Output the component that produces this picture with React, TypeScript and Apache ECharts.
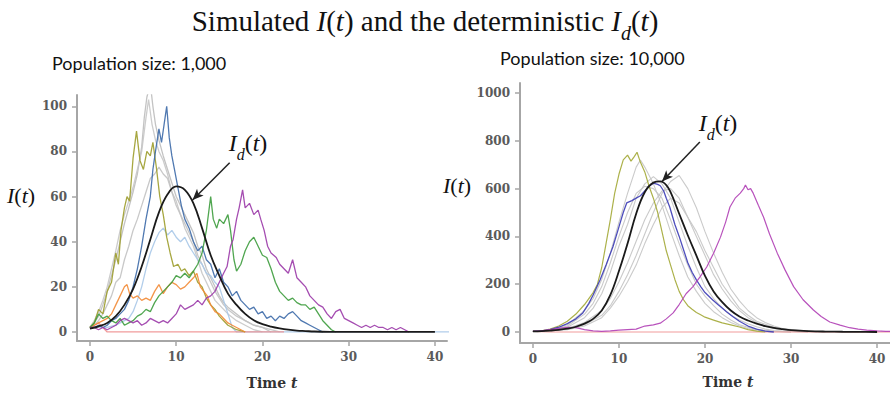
import React, { useEffect, useRef } from "react";
import * as echarts from "echarts";

// ---------- Left panel (population 1,000) ----------
const xTicks = [0, 10, 20, 30, 40];
const yTicksLeft = [0, 20, 40, 60, 80, 100];
const yTicksRight = [0, 200, 400, 600, 800, 1000];

const leftGrayA = [[0,2],[0.5,4],[1,7],[1.5,12],[2,18],[2.5,25],[3,32],[3.5,40],[4,48],[4.5,55],[5,62],[5.5,70],[6,82],[6.3,95],[6.6,104],[7,110],[7.3,100],[7.6,92],[8,85],[8.5,78],[9,72],[9.5,66],[10,60],[10.5,56],[11,52],[11.5,48],[12,44],[12.5,38],[13,34],[13.5,28],[14,24],[14.5,20],[15,16],[15.5,13],[16,11],[17,8],[18,5],[19,3],[20,2],[21,0]];
const leftGrayB = [[0,2],[0.5,5],[1,9],[1.5,14],[2,20],[2.5,28],[3,36],[3.5,45],[4,52],[4.5,58],[5,64],[5.5,72],[6,80],[6.5,95],[6.8,103],[7.2,92],[7.6,85],[8,80],[8.5,76],[9,70],[9.5,62],[10,58],[10.5,52],[11,46],[11.5,42],[12,38],[12.5,32],[13,26],[13.5,22],[14,18],[14.5,14],[15,12],[16,8],[17,5],[18,3],[19,1],[20,0]];
const leftGrayC = [[0,2],[0.5,3],[1,5],[1.5,8],[2,12],[2.5,16],[3,22],[3.5,24],[4,32],[4.5,38],[5,45],[5.5,50],[6,56],[6.5,62],[7,68],[7.5,70],[8,73],[8.5,70],[9,68],[9.5,62],[10,56],[10.5,52],[11,48],[11.5,44],[12,40],[12.5,34],[13,30],[13.5,26],[14,22],[14.5,18],[15,15],[15.5,12],[16,10],[17,7],[18,5],[19,3],[20,2],[21,1],[22,0]];
const leftOlive = [[0,2],[0.5,4],[1,10],[1.5,8],[2,18],[2.5,22],[3,35],[3.3,30],[3.6,45],[4,55],[4.3,60],[4.6,58],[5,77],[5.4,89],[5.8,76],[6.2,72],[6.6,80],[7,78],[7.3,84],[7.7,73],[8.1,60],[8.5,52],[8.9,42],[9.3,35],[9.7,29],[10.2,30],[10.6,27],[11,28],[11.5,25],[12,27],[12.5,22],[13,20],[13.5,15],[14,12],[14.5,10],[15,7],[15.5,5],[16,3],[17,1],[18,0]];
const leftDarkBlue = [[0,2],[0.5,2],[1,3],[1.5,2],[2,3],[2.5,5],[3,6],[3.5,8],[4,10],[4.5,14],[5,20],[5.5,28],[6,38],[6.5,50],[7,60],[7.3,72],[7.6,80],[8,90],[8.3,84],[8.6,92],[8.9,100],[9.2,86],[9.5,78],[9.8,72],[10.2,64],[10.6,56],[11,50],[11.5,46],[12,40],[12.5,36],[13,38],[13.5,32],[14,30],[14.5,24],[15,28],[15.5,22],[16,20],[16.5,16],[17,18],[17.5,14],[18,12],[18.5,10],[19,11],[19.5,8],[20,9],[20.5,6],[21,7],[21.5,5],[22,7],[22.5,6],[23,8],[23.5,9],[24,7],[24.5,5],[25,4],[25.5,3],[26,2],[26.5,1],[27,0]];
const leftLightBlue = [[0,2],[1,2],[2,2],[3,3],[4,5],[4.5,6],[5,9],[5.5,14],[6,20],[6.5,28],[7,35],[7.5,40],[8,44],[8.5,46],[9,43],[9.5,45],[10,42],[10.5,40],[11,42],[11.5,38],[12,35],[12.5,32],[13,30],[13.5,26],[14,25],[14.5,22],[15,20],[15.5,14],[16,8],[16.5,2],[17,0],[42,0]];
const leftOrange = [[0,2],[0.5,3],[1,4],[1.5,5],[2,6],[2.5,8],[3,12],[3.5,16],[4,20],[4.3,21],[4.6,17],[5,15],[5.5,16],[6,14],[6.5,15],[7,14],[7.5,18],[8,21],[8.5,17],[9,20],[9.5,22],[10,21],[10.5,19],[11,20],[11.5,22],[12,24],[12.4,26],[12.8,20],[13.2,18],[13.6,16],[14,12],[14.5,9],[15,8],[15.5,6],[16,4],[16.5,3],[17,2],[18,0]];
const leftGreen = [[0,2],[0.5,4],[1,8],[1.5,6],[2,7],[2.5,5],[3,4],[3.5,6],[4,3],[4.5,4],[5,5],[5.5,7],[6,8],[6.5,10],[7,9],[7.5,13],[8,16],[8.5,18],[9,20],[9.5,22],[10,25],[10.5,24],[11,26],[11.5,24],[12,27],[12.5,30],[13,35],[13.5,45],[14,60],[14.3,50],[14.7,46],[15,50],[15.5,48],[16,52],[16.3,45],[16.7,32],[17,27],[17.5,30],[18,36],[18.5,40],[19,42],[19.5,38],[20,34],[20.5,33],[21,28],[21.5,22],[22,18],[22.5,16],[23,14],[23.5,15],[24,13],[24.5,12],[25,12],[25.5,10],[26,11],[26.5,8],[27,5],[27.5,3],[28,1],[28.5,0]];
const leftPurple = [[0,2],[0.5,2],[1,1],[1.5,2],[2,1],[2.5,2],[3,3],[3.5,5],[4,6],[4.5,5],[5,4],[5.5,5],[6,3],[6.5,4],[7,6],[7.5,5],[8,4],[8.5,5],[9,4],[9.5,6],[10,8],[10.5,12],[11,10],[11.5,11],[12,12],[12.5,14],[13,12],[13.5,15],[14,16],[14.5,18],[15,22],[15.5,26],[15.9,29],[16.3,38],[16.6,41],[17,50],[17.3,55],[17.7,63],[18,55],[18.5,57],[19,52],[19.5,54],[19.8,50],[20.2,45],[20.6,38],[21,35],[21.6,33],[22,30],[22.5,28],[23,26],[23.5,32],[24,24],[24.5,22],[25,20],[25.5,16],[26,14],[26.5,12],[27,11],[27.5,8],[28,6],[28.5,9],[29,10],[29.5,6],[30,5],[30.5,4],[31,3],[31.5,2],[32,3],[32.5,2],[33,3],[33.5,2],[34,2],[34.5,1],[35,2],[35.5,1],[36,2],[36.5,1],[37,0]];
const leftPink = [[0,2],[0.5,3],[1,4],[1.5,2],[2,0],[22.5,0]];
const leftDeterministic = [[0,1.5],[1,2.5],[2,4],[3,7],[4,12],[5,19],[6,29],[7,41],[8,53],[9,61],[10,64.5],[11,63],[12,57],[13,46],[14,34],[15,25],[16,17],[17,12],[18,8],[19,5.2],[20,3.5],[21,2.4],[22,1.6],[23,1],[24,0.6],[25,0.4],[26,0.2],[28,0.05],[30,0],[40,0]];

// ---------- Right panel (population 10,000) ----------
const rightGray1 = [[0,3],[2,8],[4,30],[6,90],[7,140],[8,220],[9,330],[10,460],[11,580],[12,690],[12.5,720],[13,690],[14,620],[15,530],[16,420],[17,320],[18,230],[19,170],[20,120],[21,85],[22,60],[23,40],[24,25],[25,15],[26,8],[28,2],[30,0]];
const rightGray2 = [[0,3],[2,6],[4,20],[6,60],[7,100],[8,160],[9,250],[10,360],[11,450],[12,560],[13,620],[14,650],[15,620],[16,560],[17,460],[18,360],[19,270],[20,190],[21,140],[22,100],[23,70],[24,50],[25,35],[26,22],[27,12],[28,6],[30,2],[32,0]];
const rightGray3 = [[0,3],[2,5],[4,12],[6,30],[8,70],[9,110],[10,170],[11,240],[12,320],[13,410],[14,500],[15,580],[16,630],[17,655],[18,600],[19,520],[20,420],[21,330],[22,250],[23,180],[24,130],[25,90],[26,60],[27,40],[28,25],[29,15],[30,10],[32,4],[34,0]];
const rightGray4 = [[0,3],[2,5],[4,15],[6,40],[8,90],[9,140],[10,210],[11,290],[12,380],[13,470],[14,540],[15,590],[16,600],[17,560],[18,480],[19,400],[20,320],[21,240],[22,180],[23,130],[24,90],[25,60],[26,40],[27,25],[28,15],[30,5],[32,0]];
const rightGray5 = [[0,3],[2,8],[4,25],[6,75],[7,120],[8,190],[9,290],[10,400],[11,500],[12,580],[13,610],[14,600],[15,560],[16,470],[17,370],[18,280],[19,200],[20,150],[21,110],[22,75],[23,50],[24,30],[25,20],[26,10],[28,3],[30,0]];
const rightGray6 = [[0,3],[4,10],[6,25],[8,60],[9,100],[10,150],[11,210],[12,280],[13,370],[14,450],[15,520],[16,560],[17,540],[18,480],[19,420],[20,340],[21,270],[22,200],[23,150],[24,100],[25,70],[26,45],[28,20],[30,8],[33,0]];
const rightOlive = [[0,3],[1,5],[2,12],[3,25],[4,45],[5,75],[6,115],[7,165],[7.5,200],[8,270],[8.5,370],[9,470],[9.5,580],[10,660],[10.5,720],[11,740],[11.4,715],[11.8,735],[12.1,752],[12.5,710],[13,670],[13.5,610],[14,560],[14.5,500],[15,420],[15.5,340],[16,280],[16.5,220],[17,170],[17.5,135],[18,110],[18.5,95],[19,82],[19.5,72],[20,62],[21,50],[22,38],[23,30],[24,21],[25,10],[26,4],[27,0]];
const rightBlue = [[0,3],[1,5],[2,10],[3,20],[4,35],[5,55],[5.8,80],[6.5,120],[7,155],[7.8,218],[8.5,280],[9.3,357],[10,440],[10.5,500],[10.9,540],[11.5,550],[12,560],[12.5,570],[13,590],[13.5,610],[14,623],[14.5,618],[14.8,612],[15.2,590],[15.5,560],[15.9,523],[16.5,450],[17,400],[17.4,356],[18,290],[18.5,250],[19,218],[19.5,190],[20,165],[20.9,134],[21.5,115],[22,100],[22.5,85],[23.3,63],[24,45],[25,25],[26,12],[26.5,8],[27,4],[28,0]];
const rightPurple = [[0,3],[1,5],[2,10],[3,15],[4,20],[5,18],[6,10],[7,5],[8,3],[9,5],[10,8],[11,10],[12,12],[13,25],[14,30],[14.8,37],[15.5,55],[16.3,80],[17,115],[17.8,160],[18.6,190],[19.4,230],[20.2,272],[21,330],[21.8,397],[22.4,460],[22.9,523],[23.5,560],[24.1,581],[24.5,600],[24.7,615],[25,595],[25.3,600],[25.6,581],[26.2,530],[26.8,481],[27.5,410],[28.4,330],[29.3,260],[30.3,190],[31.4,135],[32.6,92],[33.5,65],[34.5,42],[35.7,29],[36.8,18],[37.8,12],[38.8,8],[40,5],[41,3],[42,2]];
const rightRed = [[0,3],[1,1],[2,0],[42,0]];
const rightDeterministic = [[0,3],[1,4],[2,6],[3,9],[4,14],[5,22],[6,35],[7,55],[8,90],[9,155],[10,255],[11,370],[12,495],[13,585],[14,625],[14.8,630],[15.5,615],[16,585],[17,495],[18,405],[19,320],[20,235],[21,170],[22,125],[23,90],[24,65],[25,48],[26,35],[27,25],[28,17],[29,12],[30,8],[32,4],[34,2],[36,1],[38,0.5],[40,0]];

// arrow annotations (data coordinates)
const leftArrow = [[16.2, 75], [11.9, 58.5]];
const rightArrow = [[19.4, 795], [15.0, 630]];

const SERIF = "'DejaVu Serif', 'Liberation Serif', serif";
const MATH = "'Liberation Serif', 'DejaVu Serif', serif";
const SANS = "Lato, 'Open Sans', sans-serif";

function mathRich(size: number) {
  const lh = size + 14;
  const sub = Math.round(size * 0.68);
  return {
    it: { fontFamily: MATH, fontStyle: "italic", fontSize: size, fill: "#111", lineHeight: lh },
    up: { fontFamily: MATH, fontSize: size, fill: "#111", lineHeight: lh },
    sub: { fontFamily: MATH, fontStyle: "italic", fontSize: sub, fill: "#111", verticalAlign: "bottom", lineHeight: sub + 2 },
    s: { fontFamily: MATH, fontSize: size, fill: "#111", lineHeight: lh },
  };
}

export default function App() {
  const ref = useRef<HTMLDivElement>(null);
  useEffect(() => {
    if (!ref.current) return;
    const chart = echarts.init(ref.current, undefined, { renderer: "svg" });

    const line = (name: string, data: number[][], color: string, idx: number, width = 1.3, z = 2, opacity = 0.9) => ({
      name,
      type: "line",
      xAxisIndex: idx,
      yAxisIndex: idx,
      data,
      showSymbol: false,
      symbol: "none",
      lineStyle: { color, width, opacity },
      z,
      silent: true,
    });

    const labelStyle = { color: "#5a5a5a", fontFamily: SERIF, fontSize: 12, fontWeight: "bold" as const };

    const xAxisBase = (idx: number) => ({
      type: "value",
      gridIndex: idx,
      min: -1.5,
      max: idx === 0 ? 41.4 : 41.5,
      axisLine: { show: true, onZero: false, lineStyle: { color: "#a6a6a6", width: 2 } },
      axisTick: { show: true, customValues: xTicks, length: 5, lineStyle: { color: "#a6a6a6", width: 1.5 } },
      axisLabel: { customValues: xTicks, margin: 10, ...labelStyle, formatter: (v: number) => String(v) },
      splitLine: { show: false },
    });
    const yAxisBase = (idx: number, min: number, max: number, ticks: number[]) => ({
      type: "value",
      gridIndex: idx,
      min,
      max,
      axisLine: { show: true, onZero: false, lineStyle: { color: "#a6a6a6", width: 2 } },
      axisTick: { show: true, customValues: ticks, length: 5, lineStyle: { color: "#a6a6a6", width: 1.5 } },
      axisLabel: { customValues: ticks, margin: 10, ...labelStyle, formatter: (v: number) => String(v) },
      splitLine: { show: false },
    });

    const arrowML = (pts: number[][]) => ({
      silent: true,
      symbol: ["none", "arrow"],
      symbolSize: [7, 11],
      label: { show: false },
      lineStyle: { color: "#222", width: 1.5, type: "solid" },
      data: [[{ coord: pts[0] }, { coord: pts[1] }]],
    });

    const timeLabel = (x: number, y: number) => ({
      type: "text",
      x,
      y,
      style: {
        text: "{a|Time }{b|t}",
        rich: {
          a: { fontFamily: SERIF, fontSize: 14, fontWeight: "bold", fill: "#333" },
          b: { fontFamily: SERIF, fontStyle: "italic", fontWeight: "bold", fontSize: 14, fill: "#333" },
        },
        align: "center",
        verticalAlign: "middle",
      },
    });

    const option: any = {
      animation: false,
      backgroundColor: "#fff",
      grid: [
        { left: 77, top: 95, width: 370, height: 246 },
        { left: 520, top: 83, width: 370, height: 260 },
      ],
      xAxis: [xAxisBase(0), xAxisBase(1)],
      yAxis: [yAxisBase(0, -4, 105, yTicksLeft), yAxisBase(1, -46, 1042, yTicksRight)],
      series: [
        line("gA", leftGrayA, "#bdbdbd", 0),
        line("gB", leftGrayB, "#c6c6c6", 0),
        line("gC", leftGrayC, "#c2c2c2", 0),
        line("lightblue", leftLightBlue, "#a9c8e8", 0),
        line("pink", leftPink, "#f09090", 0),
        line("olive", leftOlive, "#9d9d2c", 0),
        line("darkblue", leftDarkBlue, "#3d6aa8", 0),
        line("orange", leftOrange, "#f28a35", 0),
        line("green", leftGreen, "#3d9c3d", 0),
        line("purple", leftPurple, "#9b3aa8", 0),
        {
          ...line("det", leftDeterministic, "#1a1a1a", 0, 1.8, 5, 1),
          smooth: 0.4,
          markLine: arrowML(leftArrow),
        },
        line("rg1", rightGray1, "#c4c4c4", 1, 1.1),
        line("rg2", rightGray2, "#c4c4c4", 1, 1.1),
        line("rg3", rightGray3, "#c4c4c4", 1, 1.1),
        line("rg4", rightGray4, "#c4c4c4", 1, 1.1),
        line("rg5", rightGray5, "#c4c4c4", 1, 1.1),
        line("rg6", rightGray6, "#c4c4c4", 1, 1.1),
        line("rred", rightRed, "#f09090", 1, 1.2),
        line("rolive", rightOlive, "#a3a836", 1, 1.2),
        line("rblue", rightBlue, "#3b3bb5", 1, 1.3),
        line("rpurple", rightPurple, "#b03fb5", 1, 1.2),
        {
          ...line("rdet", rightDeterministic, "#1a1a1a", 1, 1.8, 5, 1),
          smooth: 0.4,
          markLine: arrowML(rightArrow),
        },
      ],
      graphic: [
        {
          type: "text",
          x: 425,
          y: 21,
          style: {
            text: "{s|Simulated }{it|I}{up|(}{it|t}{up|)}{s| and the deterministic }{it|I}{sub|d}{up|(}{it|t}{up|)}",
            rich: mathRich(29),
            align: "center",
            verticalAlign: "middle",
          },
        },
        {
          type: "text",
          x: 52,
          y: 63,
          style: { text: "Population size: 1,000", fontFamily: SANS, fontSize: 18, fill: "#111", align: "left", verticalAlign: "middle" },
        },
        {
          type: "text",
          x: 500,
          y: 58,
          style: { text: "Population size: 10,000", fontFamily: SANS, fontSize: 18, fill: "#111", align: "left", verticalAlign: "middle" },
        },
        {
          type: "text",
          x: 7,
          y: 195,
          style: { text: "{it|I}{up|(}{it|t}{up|)}", rich: mathRich(22), align: "left", verticalAlign: "middle" },
        },
        {
          type: "text",
          x: 443,
          y: 185,
          style: { text: "{it|I}{up|(}{it|t}{up|)}", rich: mathRich(22), align: "left", verticalAlign: "middle" },
        },
        {
          type: "text",
          x: 248,
          y: 143,
          style: { text: "{it|I}{sub|d}{up|(}{it|t}{up|)}", rich: mathRich(24), align: "center", verticalAlign: "middle" },
        },
        {
          type: "text",
          x: 718,
          y: 123,
          style: { text: "{it|I}{sub|d}{up|(}{it|t}{up|)}", rich: mathRich(24), align: "center", verticalAlign: "middle" },
        },
        timeLabel(272, 383),
        timeLabel(728, 382),
      ],
    };
    chart.setOption(option);
    return () => chart.dispose();
  }, []);

  return <div ref={ref} style={{ position: "fixed", left: 0, top: 0, width: 890, height: 395, background: "#fff" }} />;
}
